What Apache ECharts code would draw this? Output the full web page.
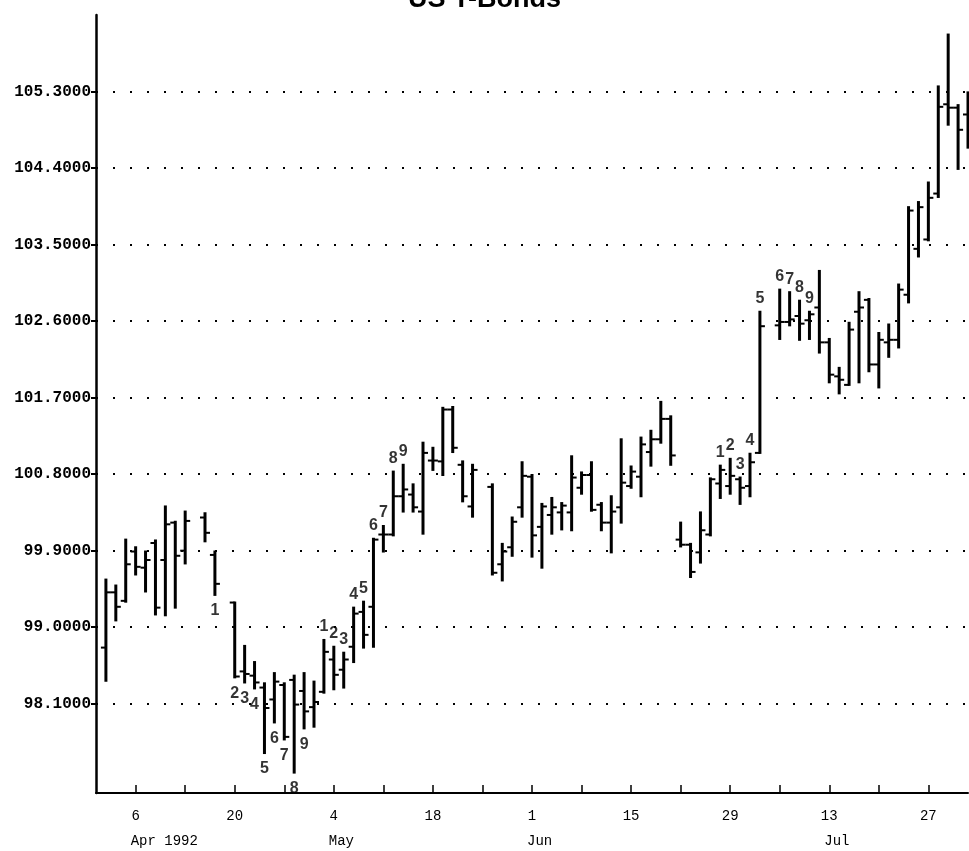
<!DOCTYPE html>
<html><head><meta charset="utf-8">
<script src="https://cdn.jsdelivr.net/npm/echarts@6/dist/echarts.min.js"></script>
<style>html,body{margin:0;padding:0;background:#fff}#c{width:969px;height:851px}</style>
</head><body><div id="c"></div>
<script>
// ---- data (1992, trading days) ----
const barDates = ['04-01','04-02','04-03','04-06','04-07','04-08','04-09','04-10','04-13','04-15','04-16',
  '04-20','04-21','04-22','04-23','04-24','04-27','04-28','04-29','04-30','05-01',
  '05-04','05-05','05-06','05-07','05-08','05-11','05-12','05-13','05-14','05-15',
  '05-18','05-19','05-20','05-21','05-22','05-26','05-27','05-28','05-29',
  '06-01','06-02','06-03','06-04','06-05','06-08','06-09','06-10','06-11','06-12',
  '06-15','06-16','06-17','06-18','06-19','06-22','06-23','06-24','06-25','06-26',
  '06-29','06-30','07-01','07-02','07-06','07-07','07-08','07-09','07-10',
  '07-13','07-14','07-15','07-16','07-17','07-20','07-21','07-22','07-23','07-24',
  '07-27','07-28','07-29','07-30','07-31'];
const openP = [98.76,99.41,99.31,99.89,99.70,99.99,99.79,100.23,99.90,100.29,99.85,
  99.29,98.48,98.43,98.29,98.15,98.32,98.38,98.25,98.06,98.24,
  98.62,98.50,98.77,99.18,99.24,100.09,100.09,100.54,100.56,100.36,
  100.96,100.95,101.56,100.91,100.42,100.65,99.74,99.94,100.41,
  100.77,100.18,100.32,100.35,100.35,100.64,100.79,100.44,100.23,100.41,
  100.66,100.77,101.06,101.21,101.45,100.03,99.97,99.88,100.09,100.69,
  100.66,100.74,100.66,101.05,102.55,102.59,102.66,102.61,102.76,
  102.35,101.95,101.85,102.71,102.85,102.09,102.35,102.38,102.91,103.45,
  103.56,104.10,105.15,105.11,105.03];
const highP = [99.56,99.49,100.03,99.94,99.89,100.02,100.42,100.24,100.36,100.34,99.89,
  99.29,98.78,98.59,98.34,98.46,98.34,98.43,98.46,98.36,98.85,
  98.77,98.70,99.23,99.30,100.04,100.19,100.83,100.91,100.68,101.17,
  101.11,101.58,101.59,100.95,100.91,100.68,99.98,100.29,100.94,
  100.79,100.45,100.52,100.46,101.01,100.82,100.94,100.46,100.54,101.21,
  100.89,101.23,101.31,101.65,101.48,100.23,99.98,100.35,100.75,100.90,
  100.98,100.76,101.04,102.71,102.97,102.94,102.84,102.71,103.19,
  102.39,102.05,102.58,102.94,102.86,102.46,102.56,103.03,103.94,104.00,
  104.23,105.36,105.97,105.14,105.29];
const lowP = [98.37,99.08,99.30,99.62,99.42,99.15,99.14,99.23,99.75,100.01,99.38,
  98.41,98.35,98.28,97.52,97.88,97.68,97.29,97.81,97.83,98.23,
  98.27,98.29,98.59,98.76,98.77,99.89,100.08,100.36,100.36,100.10,
  100.85,100.79,101.06,100.48,100.30,99.62,99.55,99.84,100.30,
  99.83,99.70,100.10,100.15,100.14,100.57,100.37,100.14,99.88,100.23,
  100.64,100.54,100.90,101.17,100.91,99.95,99.59,99.76,100.08,100.52,
  100.57,100.45,100.54,101.05,102.39,102.55,102.38,102.39,102.23,
  101.88,101.75,101.85,101.88,102.01,101.82,102.18,102.29,102.82,103.36,
  103.55,104.06,104.91,104.39,104.64];
const closeP = [99.41,99.24,99.74,99.71,99.79,99.23,100.21,99.84,100.25,100.11,99.51,
  98.42,98.45,98.35,98.05,98.36,97.71,98.09,98.01,98.12,98.71,
  98.44,98.62,99.16,98.91,100.03,100.09,100.54,100.62,100.41,101.05,
  100.96,101.56,101.11,100.54,100.85,99.64,99.89,100.24,100.78,
  100.08,100.42,100.41,100.43,100.76,100.79,100.38,100.23,100.36,100.70,
  100.83,101.15,101.21,101.45,101.02,99.97,99.65,100.14,100.74,100.85,
  100.78,100.64,100.94,102.54,102.59,102.62,102.57,102.68,102.35,
  101.97,101.91,102.50,102.76,102.09,102.38,102.38,102.97,103.90,103.94,
  104.05,105.12,105.11,104.85,105.21];

const yTickValues = [98.1, 99.0, 99.9, 100.8, 101.7, 102.6, 103.5, 104.4, 105.3];
const dayTickDates = ['04-06','04-20','05-04','05-18','06-01','06-15','06-29','07-13','07-27'];
const dayTickLabels = ['6','20','4','18','1','15','29','13','27'];
const monthTickDates = ['04-06','05-04','06-01','07-13'];
const monthTickLabels = ['Apr 1992','May','Jun','Jul'];

const belowCountDates = ['04-16','04-20','04-21','04-22','04-23','04-24','04-27','04-28','04-29'];
const belowCountLabels = ['1','2','3','4','5','6','7','8','9'];
const aboveCountDates = ['05-01','05-04','05-05','05-06','05-07','05-08','05-11','05-12','05-13',
  '06-26','06-29','06-30','07-01','07-02','07-06','07-07','07-08','07-09'];
const aboveCountLabels = ['1','2','3','4','5','6','7','8','9','1','2','3','4','5','6','7','8','9'];

// ---- axis categories: every weekday 31 Mar .. 31 Jul 1992 ----
const cats = [], mondays = new Set();
for (let d = new Date(Date.UTC(1992,2,31)); d <= new Date(Date.UTC(1992,6,31)); d.setUTCDate(d.getUTCDate()+1)) {
  const wd = d.getUTCDay();
  if (wd === 0 || wd === 6) continue;
  const key = String(d.getUTCMonth()+1).padStart(2,'0') + '-' + String(d.getUTCDate()).padStart(2,'0');
  cats.push(key);
  if (wd === 1) mondays.add(key);
}

const ohlc = barDates.map((d, i) => [cats.indexOf(d), openP[i], highP[i], lowP[i], closeP[i]]);
const belowData = belowCountDates.map((d, i) => [cats.indexOf(d), lowP[barDates.indexOf(d)], belowCountLabels[i]]);
const aboveData = aboveCountDates.map((d, i) => [cats.indexOf(d), highP[barDates.indexOf(d)], aboveCountLabels[i]]);

const chart = echarts.init(document.getElementById('c'));
const mono = 'Liberation Mono';
chart.setOption({
  animation: false,
  backgroundColor: '#fff',
  title: { text: 'US T-Bonds', left: 'center', top: -19,
    textStyle: { fontSize: 27, fontWeight: 'bold', fontFamily: 'Liberation Sans', color: '#000' } },
  grid: { left: 96, right: 1, top: 15, bottom: 58 },
  xAxis: [{
    type: 'category', data: cats, boundaryGap: false,
    axisLine: { lineStyle: { color: '#000', width: 2 } },
    axisTick: { inside: true, length: 8, interval: (i, v) => mondays.has(v), lineStyle: { color: '#000', width: 1.5 } },
    axisLabel: { interval: (i, v) => dayTickDates.indexOf(v) >= 0,
      formatter: v => dayTickLabels[dayTickDates.indexOf(v)],
      fontFamily: mono, fontSize: 14, color: '#000', margin: 16 },
    splitLine: { show: false }
  }, {
    type: 'category', data: cats, boundaryGap: false, position: 'bottom',
    axisLine: { show: false }, axisTick: { show: false }, splitLine: { show: false },
    axisLabel: { interval: (i, v) => monthTickDates.indexOf(v) >= 0,
      formatter: v => monthTickLabels[monthTickDates.indexOf(v)],
      align: 'left', fontFamily: mono, fontSize: 14, color: '#000', margin: 41, padding: [0, 0, 0, -5] }
  }],
  yAxis: {
    type: 'value', min: 97.05, max: 106.2, scale: true,
    axisLine: { show: true, lineStyle: { color: '#000', width: 2.5 } },
    axisTick: { show: true, customValues: yTickValues, length: 5, lineStyle: { color: '#000', width: 2 } },
    axisLabel: { customValues: yTickValues, formatter: v => v.toFixed(4),
      fontFamily: mono, fontSize: 16, fontWeight: 'bold', color: '#000', margin: 5 },
    splitLine: { show: true, lineStyle: { color: '#000', width: 2, type: [2, 15] } }
  },
  series: [{
    type: 'custom', xAxisIndex: 0,
    encode: { x: 0, y: [1, 2, 3, 4] },
    data: ohlc,
    renderItem: function (params, api) {
      const xi = api.value(0);
      const pH = api.coord([xi, api.value(2)]);
      const pL = api.coord([xi, api.value(3)]);
      const pO = api.coord([xi, api.value(1)]);
      const pC = api.coord([xi, api.value(4)]);
      const x = pH[0];
      const st = { stroke: '#000', lineWidth: 3 };
      const tk = { stroke: '#000', lineWidth: 2 };
      return { type: 'group', children: [
        { type: 'line', shape: { x1: x, y1: pH[1] - 1, x2: x, y2: pL[1] + 1 }, style: st },
        { type: 'line', shape: { x1: x - 5, y1: pO[1], x2: x, y2: pO[1] }, style: tk },
        { type: 'line', shape: { x1: x, y1: pC[1], x2: x + 5, y2: pC[1] }, style: tk }
      ]};
    }
  }, {
    type: 'scatter', symbolSize: 0, data: belowData, silent: true,
    label: { show: true, position: 'bottom', distance: 8, formatter: p => p.value[2],
      fontFamily: 'Liberation Sans', fontWeight: 'bold', fontSize: 16, color: '#000' }
  }, {
    type: 'scatter', symbolSize: 0, data: aboveData, silent: true,
    label: { show: true, position: 'top', distance: 5, formatter: p => p.value[2],
      fontFamily: 'Liberation Sans', fontWeight: 'bold', fontSize: 16, color: '#000' }
  }]
});
</script></body></html>
